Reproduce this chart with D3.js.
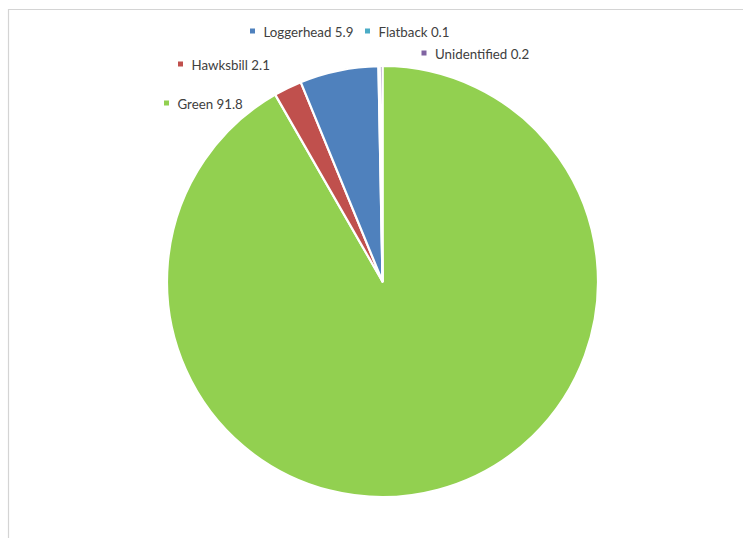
<!DOCTYPE html>
<html><head><meta charset="utf-8">
<script src="https://cdn.jsdelivr.net/npm/d3@7"></script>
<style>html,body{margin:0;padding:0;background:#fff;}svg{display:block;}</style>
</head><body>
<script>
const categories = ["Green", "Hawksbill", "Loggerhead", "Flatback", "Unidentified"];
const values = [91.8, 2.1, 5.9, 0.1, 0.2];
const colors = ["#92d050", "#c0504d", "#4f81bd", "#4bacc6", "#8064a2"];

const W = 743, H = 538;
const cx = 382.5, cy = 281.5, R = 215.5;
// label placement (Excel-style, relative to pie centre): [key x, text baseline y]
const labelPos = {
  "Green": [-218.5, -172.5],
  "Hawksbill": [-204.5, -211.5],
  "Loggerhead": [-132.5, -244.5],
  "Flatback": [-17.5, -244.5],
  "Unidentified": [39, -222.5]
};

const svg = d3.select("body").append("svg").attr("width", W).attr("height", H);
svg.append("rect").attr("x", 0).attr("y", 0).attr("width", W).attr("height", H).attr("fill", "#fff");
svg.append("path").attr("d", `M8.5,${H} V9.5 H${W}`).attr("fill", "none").attr("stroke", "#d4d4d4").attr("stroke-width", 1.2);

const data = categories.map((c, i) => ({cat: c, val: values[i], color: colors[i]}));
const pie = d3.pie().sort(null).value(d => d.val);
const arc = d3.arc().innerRadius(0).outerRadius(R);
const g = svg.append("g").attr("transform", `translate(${cx},${cy})`);
g.selectAll("path.slice").data(pie(data)).join("path")
  .attr("class", "slice")
  .attr("d", arc)
  .attr("fill", d => d.data.color)
  .attr("stroke", "#fff")
  .attr("stroke-width", 2.2)
  .attr("stroke-linejoin", "round");

const lg = g.selectAll("g.lab").data(data).join("g").attr("class", "lab")
  .attr("transform", d => `translate(${labelPos[d.cat][0]},${labelPos[d.cat][1]})`);
lg.append("rect").attr("x", 0).attr("y", -8.5).attr("width", 5).attr("height", 5).attr("fill", d => d.color);
lg.append("text").attr("x", 13.5).attr("y", 0)
  .attr("font-family", "Lato, 'Open Sans', sans-serif").attr("font-size", 13.3)
  .attr("fill", "#404040")
  .text(d => `${d.cat} ${d.val}`);
</script>
</body></html>
